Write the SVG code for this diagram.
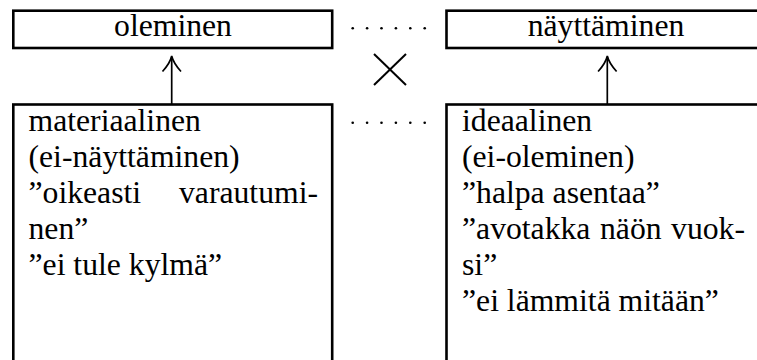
<svg xmlns="http://www.w3.org/2000/svg" width="757" height="360" viewBox="0 0 757 360">
<style>
.box{fill:#fff;stroke:#000;stroke-width:2.6}
text{font-family:'Liberation Serif','Times New Roman',serif;font-size:31.7px;fill:#000}
.c{text-anchor:middle}
.e{text-anchor:end}
.ln{stroke:#000;stroke-width:1.7;fill:none}
.dot{fill:#000}
</style>
<defs>
<g id="dots">
<circle class="dot" cx="352.7" cy="0" r="1.3"/>
<circle class="dot" cx="367.1" cy="0" r="1.3"/>
<circle class="dot" cx="381.5" cy="0" r="1.3"/>
<circle class="dot" cx="395.9" cy="0" r="1.3"/>
<circle class="dot" cx="410.3" cy="0" r="1.3"/>
<circle class="dot" cx="424.7" cy="0" r="1.3"/>
</g>
</defs>
<g id="connectors">
<line class="ln" x1="171.7" y1="104" x2="171.7" y2="57"/>
<path class="ln" d="M162.5,71.5 C167,66.5 170.5,61.5 171.7,56 C173,61.5 176.5,66.5 181,71.5"/>
<line class="ln" x1="607.3" y1="104" x2="607.3" y2="57"/>
<path class="ln" d="M598.1,71.5 C602.6,66.5 606.1,61.5 607.3,56 C608.6,61.5 612.1,66.5 616.6,71.5"/>
<use href="#dots" y="28.3"/>
<use href="#dots" y="122.7"/>
<g id="cross">
<line x1="374" y1="54" x2="406" y2="85" stroke="#000" stroke-width="2"/>
<line x1="406" y1="54" x2="374" y2="85" stroke="#000" stroke-width="2"/>
</g>
</g>
<g id="oleminen">
<rect class="box" x="13.3" y="10.7" width="318.9" height="37.3"/>
<text class="c" x="173" y="36">oleminen</text>
</g>
<g id="nayttaminen">
<rect class="box" x="446.5" y="10.7" width="318.9" height="37.3"/>
<text class="c" x="606" y="36">näyttäminen</text>
</g>
<g id="materiaalinen">
<rect class="box" x="13.3" y="104.5" width="318.9" height="280"/>
<text x="28.5" y="131">materiaalinen</text>
<text x="28.5" y="167">(ei-näyttäminen)</text>
<text x="28.5" y="203">”oikeasti</text>
<text class="e" x="318" y="203">varautumi-</text>
<text x="28.5" y="239">nen”</text>
<text x="28.5" y="275">”ei tule kylmä”</text>
</g>
<g id="ideaalinen">
<rect class="box" x="446.5" y="104.5" width="318.9" height="280"/>
<text x="462" y="131">ideaalinen</text>
<text x="462" y="167">(ei-oleminen)</text>
<text x="462" y="203">”halpa asentaa”</text>
<text x="462" y="239">”avotakka</text>
<text x="600" y="239">näön</text>
<text class="e" x="745" y="239">vuok-</text>
<text x="462" y="275">si”</text>
<text x="462" y="311">”ei lämmitä mitään”</text>
</g>
</svg>
